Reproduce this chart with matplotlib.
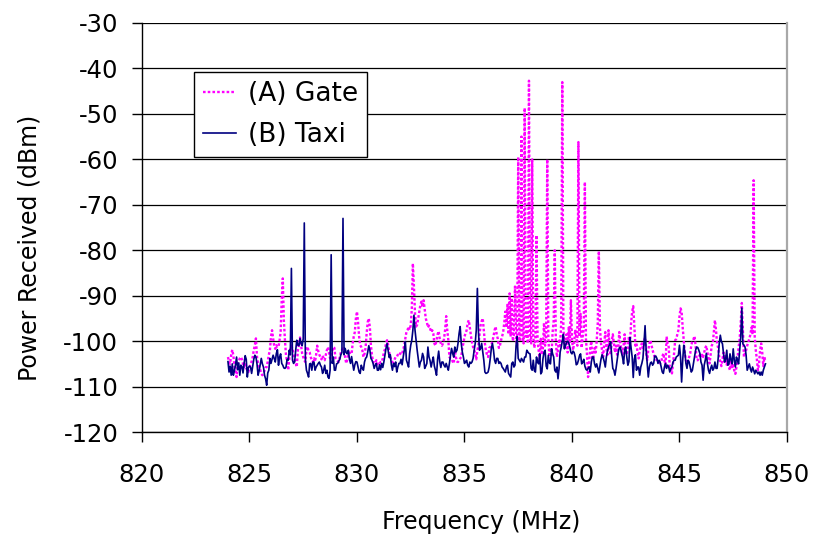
import matplotlib
matplotlib.use('Agg')
import matplotlib.pyplot as plt
import numpy as np

# Frequency grid of the sweep (MHz)
freq_start = 824.0
freq_step = 0.05

# (A) Gate, power in dBm, one row per MHz (20 samples each)
gate_db = [
    -103.5, -104.6, -105.0, -103.0, -101.9, -103.1, -105.5, -106.5, -107.9, -105.2, -104.4, -103.8, -103.5, -104.0, -105.0, -105.7, -104.8, -106.0, -106.4, -106.8,  # 824
    -105.8, -105.0, -104.5, -103.5, -102.0, -100.9, -99.4, -103.5, -105.0, -105.7, -106.3, -107.2, -107.5, -107.1, -106.5, -105.8, -105.7, -104.5, -103.0, -102.0,  # 825
    -99.0, -97.6, -99.4, -101.0, -101.7, -100.9, -101.3, -101.3, -99.8, -98.0, -91.0, -86.2, -95.5, -99.8, -103.2, -104.5, -106.4, -104.0, -102.0, -101.0,  # 826
    -101.7, -102.7, -104.2, -104.8, -105.7, -102.0, -100.9, -99.2, -101.0, -102.7, -103.5, -104.2, -104.6, -102.0, -101.2, -102.2, -102.5, -103.5, -104.2, -104.6,  # 827
    -103.8, -104.5, -103.0, -101.0, -102.2, -103.0, -103.5, -104.0, -103.2, -103.8, -104.2, -103.0, -102.0, -101.3, -102.5, -103.8, -103.0, -102.2, -101.3, -101.5,  # 828
    -103.8, -104.2, -104.4, -104.6, -103.5, -102.5, -102.0, -101.6, -102.2, -103.5, -104.9, -104.0, -102.8, -102.5, -102.8, -102.8, -100.5, -99.0, -98.0, -95.0,  # 829
    -93.5, -95.8, -99.0, -100.9, -101.3, -102.0, -103.5, -102.8, -101.5, -98.3, -95.8, -95.0, -97.0, -101.0, -103.2, -104.5, -104.9, -104.9, -104.2, -105.0,  # 830
    -105.3, -104.9, -104.6, -104.6, -103.8, -102.5, -101.8, -100.5, -99.8, -100.9, -102.5, -103.5, -104.2, -104.6, -104.6, -104.0, -103.5, -103.5, -103.0, -102.5,  # 831
    -102.7, -103.0, -102.8, -101.8, -101.0, -99.4, -98.0, -97.6, -96.8, -97.5, -96.5, -93.0, -82.9, -88.0, -94.0, -96.8, -96.4, -95.0, -93.5, -92.0,  # 832
    -91.3, -92.5, -91.0, -93.0, -95.0, -95.8, -97.0, -96.6, -97.2, -98.0, -97.6, -98.3, -100.5, -101.0, -99.8, -98.5, -97.8, -99.5, -100.5, -101.0,  # 833
    -100.5, -99.5, -97.5, -94.5, -97.6, -99.8, -103.5, -103.8, -103.8, -104.5, -104.9, -102.0, -103.5, -104.5, -104.6, -104.2, -103.8, -103.5, -101.5, -100.5,  # 834
    -99.0, -98.3, -97.6, -96.0, -95.4, -97.0, -98.8, -100.3, -101.3, -101.9, -102.7, -104.0, -102.0, -101.0, -98.5, -96.5, -95.6, -95.0, -97.6, -100.5,  # 835
    -102.2, -103.0, -103.5, -101.5, -101.3, -101.0, -100.0, -99.0, -97.6, -96.8, -98.5, -99.5, -101.5, -101.0, -99.8, -99.0, -98.0, -96.0, -93.5, -97.0,  # 836
    -92.0, -98.5, -89.5, -99.0, -90.5, -100.0, -98.5, -88.0, -99.5, -101.0, -59.5, -99.5, -100.0, -55.0, -98.5, -100.5, -48.7, -99.0, -98.0, -100.5,  # 837
    -42.7, -99.0, -100.5, -60.0, -99.0, -101.5, -99.5, -76.7, -100.0, -102.0, -104.0, -99.5, -103.0, -101.5, -96.0, -101.0, -99.5, -60.0, -99.0, -103.5,  # 838
    -101.5, -103.0, -98.0, -95.5, -80.0, -100.0, -103.5, -102.0, -99.5, -101.0, -96.0, -43.0, -97.0, -101.5, -100.0, -98.5, -102.5, -97.0, -100.5, -91.0,  # 839
    -99.5, -102.0, -100.5, -97.5, -99.0, -101.0, -56.2, -99.0, -94.0, -101.5, -99.0, -97.0, -65.0, -99.5, -103.0, -107.9, -104.5, -101.5, -100.0, -104.0,  # 840
    -103.5, -101.5, -102.5, -100.0, -96.0, -80.2, -97.0, -100.5, -102.0, -103.5, -100.5, -98.0, -101.5, -103.0, -97.6, -101.5, -103.0, -100.0, -98.5, -100.5,  # 841
    -102.5, -101.0, -103.0, -101.5, -98.0, -100.5, -102.0, -103.0, -101.0, -98.5, -102.5, -103.0, -101.5, -99.0, -100.5, -96.0, -93.5, -92.3, -96.5, -101.0,  # 842
    -100.5, -102.5, -103.8, -102.0, -101.3, -100.5, -101.5, -100.0, -99.2, -102.5, -104.2, -102.0, -100.5, -99.8, -100.9, -102.0, -102.8, -103.5, -104.0, -104.2,  # 843
    -104.2, -104.6, -104.9, -104.6, -103.5, -102.7, -104.2, -105.7, -99.0, -100.5, -101.3, -105.7, -105.7, -107.1, -104.9, -102.7, -99.8, -99.5, -98.5, -97.6,  # 844
    -94.6, -92.8, -93.5, -97.0, -100.0, -102.7, -104.2, -104.9, -104.5, -103.5, -102.7, -100.9, -100.0, -99.6, -98.9, -101.0, -104.2, -104.2, -103.5, -103.0,  # 845
    -103.5, -103.0, -103.5, -102.5, -101.5, -101.0, -102.5, -103.8, -104.9, -103.0, -101.0, -100.5, -98.0, -95.4, -97.6, -100.5, -101.5, -103.5, -104.5, -105.5,  # 846
    -104.0, -102.5, -104.6, -103.0, -105.2, -104.0, -105.7, -106.4, -104.5, -106.0, -105.0, -106.5, -107.2, -105.7, -103.5, -101.5, -99.5, -96.0, -91.6, -97.6,  # 847
    -103.5, -102.5, -102.0, -101.0, -100.2, -99.5, -98.5, -97.0, -98.5, -64.6, -99.0, -102.0, -104.0, -106.4, -105.0, -102.0, -100.5, -102.5, -105.5, -103.5,  # 848
    -104.5,  # 849
]

# (B) Taxi, power in dBm, same grid
taxi_db = [
    -104.5, -106.8, -105.5, -107.5, -105.0, -107.5, -106.5, -105.2, -103.5, -106.3, -104.8, -107.5, -105.3, -105.6, -107.0, -104.9, -103.2, -104.0, -107.9, -105.8,  # 824
    -105.5, -105.7, -107.1, -105.5, -104.0, -103.1, -103.5, -105.0, -107.5, -106.5, -105.2, -103.8, -105.0, -105.7, -107.5, -108.3, -109.7, -107.0, -106.4, -103.8,  # 825
    -104.9, -104.0, -103.1, -103.8, -104.6, -102.7, -101.9, -105.3, -103.5, -102.8, -104.9, -105.3, -105.9, -106.0, -105.7, -104.0, -104.2, -102.0, -103.0, -84.0,  # 826
    -104.2, -104.9, -104.6, -102.0, -99.8, -100.9, -101.0, -99.4, -100.5, -101.0, -99.5, -74.0, -104.0, -106.4, -107.1, -107.9, -105.0, -104.9, -106.4, -104.6,  # 827
    -104.6, -106.4, -105.7, -105.3, -104.9, -104.6, -105.3, -105.7, -107.1, -106.4, -105.3, -107.1, -106.4, -107.9, -108.2, -106.4, -81.0, -104.9, -103.5, -106.4,  # 828
    -106.4, -105.0, -104.9, -104.4, -104.0, -103.0, -102.5, -73.0, -103.0, -101.6, -102.5, -102.8, -102.0, -104.0, -104.9, -103.4, -105.0, -106.4, -105.2, -104.5,  # 829
    -104.6, -105.7, -106.8, -107.1, -105.3, -106.0, -106.4, -104.6, -103.8, -103.5, -102.4, -101.0, -102.0, -103.8, -104.2, -104.9, -106.0, -105.3, -104.9, -106.4,  # 830
    -106.4, -105.2, -106.3, -104.9, -105.8, -104.6, -103.1, -101.6, -100.5, -102.0, -103.6, -103.0, -105.2, -106.4, -104.9, -105.6, -104.6, -106.8, -105.7, -104.9,  # 831
    -104.9, -104.0, -105.2, -103.5, -102.0, -100.1, -104.2, -104.9, -105.7, -102.7, -100.9, -99.8, -97.6, -94.3, -97.6, -99.8, -102.0, -103.8, -105.7, -104.6,  # 832
    -104.2, -102.7, -103.5, -106.0, -105.5, -104.9, -101.3, -103.5, -104.3, -105.7, -104.5, -103.5, -105.5, -106.4, -107.5, -104.0, -102.2, -104.5, -105.8, -104.6,  # 833
    -104.6, -105.3, -105.7, -104.9, -105.7, -106.4, -104.9, -103.1, -101.6, -102.7, -103.5, -101.3, -102.4, -102.0, -100.5, -98.3, -96.8, -100.5, -102.4, -103.5,  # 834
    -104.9, -104.6, -104.2, -105.3, -105.7, -104.6, -104.9, -104.6, -103.8, -102.0, -100.5, -97.5, -88.4, -98.0, -102.0, -101.6, -100.5, -102.4, -104.2, -106.8,  # 835
    -107.1, -107.0, -106.8, -105.7, -103.8, -101.6, -100.5, -102.0, -104.2, -104.9, -103.8, -103.8, -104.9, -104.6, -104.9, -105.7, -106.0, -106.4, -106.8, -105.7,  # 836
    -105.3, -107.1, -107.5, -107.9, -104.9, -104.6, -105.7, -105.3, -101.0, -99.0, -103.8, -104.2, -104.6, -103.8, -104.2, -104.6, -103.5, -103.5, -102.0, -102.4,  # 837
    -102.7, -102.8, -106.0, -106.4, -104.2, -106.5, -106.8, -103.5, -104.6, -105.0, -102.8, -107.2, -106.8, -103.9, -102.4, -102.0, -105.5, -106.1, -103.1, -104.8,  # 838
    -105.0, -101.7, -102.8, -103.5, -106.4, -106.8, -105.7, -108.3, -106.0, -102.4, -101.3, -100.0, -98.5, -101.7, -101.0, -100.2, -100.0, -100.4, -101.3, -102.5,  # 839
    -102.8, -102.2, -102.5, -103.5, -105.2, -105.0, -104.2, -103.2, -102.8, -105.0, -104.6, -104.0, -105.5, -106.2, -106.4, -106.0, -105.7, -106.8, -104.6, -103.5,  # 840
    -103.5, -105.0, -105.7, -105.0, -106.0, -107.0, -105.5, -104.0, -103.0, -103.6, -104.5, -105.7, -103.5, -102.2, -101.3, -100.8, -100.2, -103.5, -106.0, -106.4,  # 841
    -107.5, -106.0, -104.2, -102.5, -101.5, -101.3, -102.5, -103.5, -105.0, -102.0, -101.3, -103.5, -105.3, -104.5, -99.2, -101.5, -103.5, -108.0, -104.0, -103.0,  # 842
    -106.4, -105.7, -105.7, -107.5, -105.7, -104.9, -103.8, -100.5, -96.6, -102.0, -104.9, -107.9, -105.7, -104.8, -104.6, -105.3, -104.9, -103.3, -103.3, -103.8,  # 843
    -104.9, -104.2, -104.6, -105.7, -106.8, -107.1, -105.7, -104.9, -106.0, -105.3, -105.7, -106.8, -106.0, -105.7, -104.6, -104.2, -104.2, -103.5, -103.3, -103.1,  # 844
    -100.9, -103.5, -109.0, -104.2, -100.9, -102.4, -104.9, -106.0, -104.2, -104.6, -105.7, -106.8, -106.4, -104.9, -103.5, -102.0, -101.3, -101.4, -102.0, -102.7,  # 845
    -104.6, -105.3, -108.6, -105.3, -104.2, -102.7, -104.9, -106.4, -107.1, -106.0, -105.3, -106.4, -106.0, -104.6, -106.0, -106.0, -103.8, -100.5, -98.7, -100.1,  # 846
    -100.6, -102.8, -104.6, -103.9, -102.0, -105.3, -105.0, -102.8, -104.2, -105.0, -101.7, -104.2, -105.7, -103.5, -104.2, -105.0, -102.0, -99.1, -92.7, -100.6,  # 847
    -100.9, -101.3, -103.1, -106.4, -105.7, -105.0, -106.1, -106.8, -105.7, -106.4, -107.2, -106.4, -106.8, -107.2, -106.8, -107.5, -106.8, -107.5, -106.4, -105.7,  # 848
    -105.0,  # 849
]

x_ticks = [820, 825, 830, 835, 840, 845, 850]
y_ticks = [-120, -110, -100, -90, -80, -70, -60, -50, -40, -30]

freq = freq_start + freq_step * np.arange(len(gate_db))

plt.rcParams['font.family'] = ['DejaVu Sans']
plt.rcParams['axes.unicode_minus'] = False

fig = plt.figure(figsize=(8.15, 5.5), dpi=100)
ax = fig.add_axes([0.1742, 0.2145, 0.7914, 0.7437])

ax.plot(freq, gate_db, color='#FF00FF', lw=1.7, linestyle=(0, (1.1, 0.9)),
        label='(A) Gate')
ax.plot(freq, taxi_db, color='#000080', lw=1.2, label='(B) Taxi')

ax.set_xlim(820, 850)
ax.set_ylim(-120, -30)
ax.set_xticks(x_ticks)
ax.set_yticks(y_ticks)

# horizontal gridlines only, like the spreadsheet chart
ax.grid(axis='y', color='black', lw=0.9)
ax.set_axisbelow(True)

ax.spines['top'].set_visible(False)
ax.spines['right'].set_color('#A8A8A8')
ax.spines['right'].set_linewidth(1.6)
ax.spines['left'].set_linewidth(1.0)
ax.spines['bottom'].set_linewidth(1.0)

ax.tick_params(axis='both', direction='out', length=7, width=1, labelsize=17.5)
ax.tick_params(axis='x', pad=15)
ax.tick_params(axis='y', pad=10)

ax.set_xlabel('Frequency (MHz)', fontsize=17)
ax.set_ylabel('Power Received (dBm)', fontsize=17)
ax.xaxis.set_label_coords(0.526, -0.19)
ax.yaxis.set_label_coords(-0.155, 0.45)

leg = ax.legend(loc='upper left', bbox_to_anchor=(194 / 815, 1 - 72 / 550),
                bbox_transform=fig.transFigure, fontsize=19, fancybox=False,
                framealpha=1, edgecolor='black', borderpad=0.35,
                handlelength=1.25, handletextpad=0.45, labelspacing=0.55,
                borderaxespad=0)
leg.get_frame().set_linewidth(1.0)

fig.savefig('out.png', dpi=100)
